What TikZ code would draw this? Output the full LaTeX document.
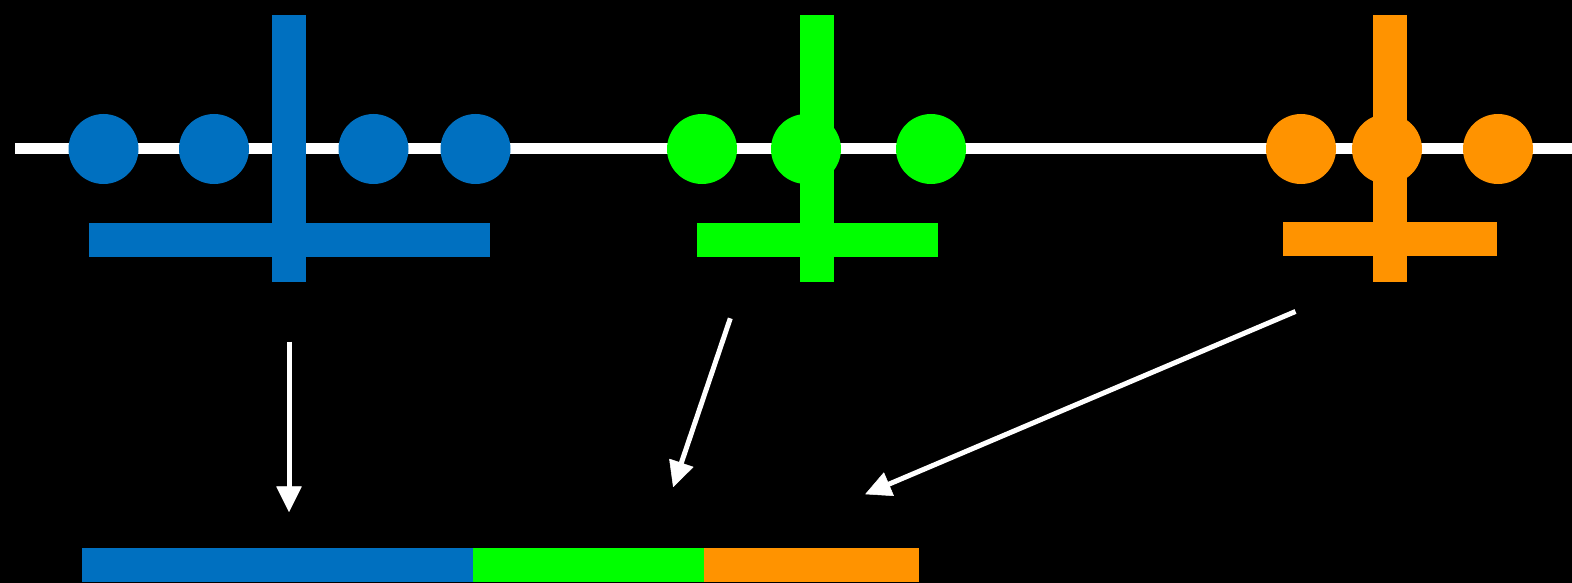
\documentclass[tikz,border=0pt]{standalone}
\usetikzlibrary{calc}
\definecolor{cblue}{RGB}{0,112,192}
\definecolor{cgreen}{RGB}{0,255,0}
\definecolor{corange}{RGB}{255,147,0}
\tikzset{
  dot/.style={circle,fill=#1,draw=none,minimum size=70pt,inner sep=0pt},
  bar/.style={rectangle,fill=#1,draw=none,inner sep=0pt},
  flowline/.style={draw=white,line width=5pt},
  flowhead/.style={fill=white,draw=white,line width=0.5pt,line join=round},
}
\newcommand{\flowarrow}[2]{%
  \coordinate (hb) at ($(#2)!25pt!(#1)$);
  \coordinate (hm) at ($(#2)!12pt!(#1)$);
  \fill[flowhead] (#2) -- ($(hb)!12.5pt!90:(#2)$) -- ($(hb)!12.5pt!-90:(#2)$) -- cycle;
  \draw[flowline] (#1) -- (hm);
}
\begin{document}
\begin{tikzpicture}[x=1pt,y=-1pt]
\fill[black] (0,0) rectangle (1572,583);
\useasboundingbox (0,0) rectangle (1572,583);
% axis
\fill[white] (15,143) rectangle (1572,154);
% blue group
\node[dot=cblue] (b1) at (103.5,149) {};
\node[dot=cblue] (b2) at (214,149) {};
\node[dot=cblue] (b3) at (373.5,149) {};
\node[dot=cblue] (b4) at (475.5,149) {};
\node[bar=cblue,minimum width=34pt,minimum height=266.5pt] (bv) at (289,148.25) {};
\node[bar=cblue,minimum width=401pt,minimum height=33.5pt] (bh) at (289.75,239.75) {};
% green group
\node[dot=cgreen] (g1) at (702,149) {};
\node[bar=cgreen,minimum width=34pt,minimum height=266.5pt] (gv) at (816.5,148.25) {};
\node[dot=cgreen] (g2) at (806,149) {};
\node[dot=cgreen] (g3) at (931,149) {};
\node[bar=cgreen,minimum width=241pt,minimum height=33.5pt] (gh) at (817.75,239.75) {};
% orange group
\node[dot=corange] (o1) at (1301,149) {};
\node[bar=corange,minimum width=34pt,minimum height=266.5pt] (ov) at (1389.5,148.25) {};
\node[dot=corange] (o2) at (1387,149) {};
\node[dot=corange] (o3) at (1498,149) {};
\node[bar=corange,minimum width=214pt,minimum height=33.5pt] (oh) at (1389.75,239) {};
% bottom combined bar
\node[bar=cblue,minimum width=391.5pt,minimum height=33.5pt] (rb) at (277.75,565) {};
\node[bar=cgreen,minimum width=231pt,minimum height=33.5pt] (rg) at (588.8,565) {};
\node[bar=corange,minimum width=214.5pt,minimum height=33.5pt] (ro) at (811.5,565) {};
% arrows
\coordinate (a1s) at (289,341.5);
\coordinate (a1e) at (289,511.5);
\coordinate (a2s) at (730.3,318.3);
\coordinate (a2e) at (673.3,486.7);
\coordinate (a3s) at (1295.5,311.5);
\coordinate (a3e) at (865.7,494);
\flowarrow{a1s}{a1e}
\flowarrow{a2s}{a2e}
\flowarrow{a3s}{a3e}
\end{tikzpicture}
\end{document}
